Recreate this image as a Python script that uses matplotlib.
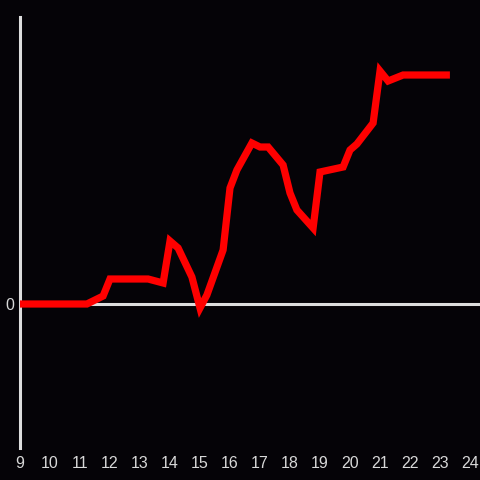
import matplotlib
matplotlib.use("Agg")
import matplotlib.pyplot as plt

hours = [9, 11.23, 11.77, 12.0, 13.27, 13.77, 14.0, 14.27, 14.73, 15.0, 15.23, 15.77,
         16.0, 16.23, 16.73, 17.0, 17.27, 17.77, 18.0, 18.23, 18.77, 19.0, 19.77, 20.0,
         20.23, 20.77, 21.0, 21.27, 21.77, 23.33]
values = [0, 0, 8, 25, 25, 21, 63, 56, 27, -4, 9, 54,
          116, 134, 161, 157, 157, 139, 111, 94, 76, 132, 137, 154,
          160, 181, 233, 223, 229, 229]
xticks = list(range(9, 25))
yticks = [0]

bg = '#050307'
axcol = '#dddddd'
txtcol = '#d8d8d8'

fig = plt.figure(figsize=(4.8, 4.8), dpi=100, facecolor=bg)
ax = fig.add_axes([20/480, 32/480, 460/480, 431/480])
ax.set_facecolor(bg)
ax.plot(hours, values, color='#ff0000', linewidth=5.2, solid_joinstyle='miter',
        solid_capstyle='butt', zorder=3)
ax.axhline(0, color=axcol, linewidth=2.2, zorder=2)
ax.set_xlim(9, 24.333)
ax.set_ylim(-144, 287)
for s in ['top', 'right', 'bottom']:
    ax.spines[s].set_visible(False)
ax.spines['left'].set_color(axcol)
ax.spines['left'].set_linewidth(2.2)
ax.set_xticks(xticks)
ax.set_xticklabels([str(t) for t in xticks])
ax.set_yticks(yticks)
ax.set_yticklabels(['0'])
ax.tick_params(axis='both', length=0, colors=txtcol, labelsize=11.5)
ax.tick_params(axis='x', pad=6)
ax.tick_params(axis='y', pad=4)
for lab in ax.get_xticklabels() + ax.get_yticklabels():
    lab.set_fontfamily('Liberation Sans')
fig.savefig('out.png', dpi=100, facecolor=bg)
